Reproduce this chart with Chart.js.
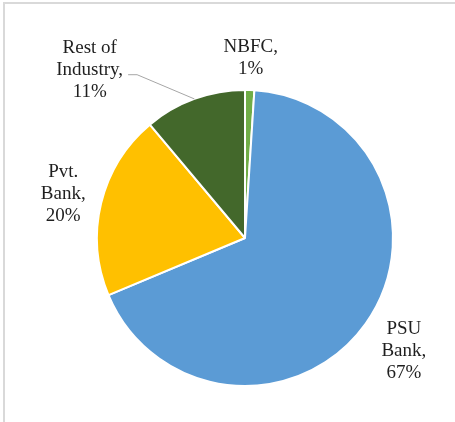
<!DOCTYPE html>
<html lang="en">
  <head>
    <meta charset="UTF-8" />
    <title>Share by lender</title>
    <script src="https://cdn.jsdelivr.net/npm/chart.js"></script>
    <style>
      html, body { margin: 0; padding: 0; background: #fff; }
      #wrap { position: relative; width: 455px; height: 422px; overflow: hidden; }
      #frame {
        position: absolute; left: 3px; top: 2px; width: 600px; height: 600px;
        border-top: 2px solid #d9d9d9; border-left: 2px solid #d9d9d9;
        box-sizing: border-box;
      }
      #chart { position: absolute; left: 0; top: 0; }
    </style>
  </head>
  <body>
    <div id="wrap">
      <div id="frame"></div>
      <canvas id="chart" width="455" height="422"></canvas>
    </div>

    <script>
      const categories = ["NBFC", "PSU Bank", "Pvt. Bank", "Rest of Industry"];
      const shares = [1, 67, 20, 11];
      const labelLines = [
        ["NBFC,", "1%"],
        ["PSU", "Bank,", "67%"],
        ["Pvt.", "Bank,", "20%"],
        ["Rest of", "Industry,", "11%"]
      ];
      const sliceColors = ["#70AD47", "#5B9BD5", "#FFC000", "#43682B"];

      // how far outside the rim each label sits, and any angular nudge (degrees)
      const labelPlacement = [
        { dist: 32 },
        { dist: 47 },
        { dist: 39 },
        { dist: 81, shift: -22.7, leader: true }
      ];

      const FONT = "19px 'Liberation Serif', 'DejaVu Serif', serif";
      const LINE_H = 22;

      const outsideLabels = {
        id: "outsideLabels",
        afterDatasetsDraw(chart) {
          const ctx = chart.ctx;
          const arcs = chart.getDatasetMeta(0).data;
          ctx.save();
          ctx.font = FONT;
          ctx.fillStyle = "#1f1f1f";
          ctx.textAlign = "center";
          ctx.textBaseline = "middle";
          arcs.forEach((arc, i) => {
            const { x, y, startAngle, endAngle, outerRadius } = arc.getProps(
              ["x", "y", "startAngle", "endAngle", "outerRadius"], true);
            const mid = (startAngle + endAngle) / 2;
            const place = labelPlacement[i];
            const ang = mid + (place.shift || 0) * Math.PI / 180;
            const d = outerRadius + place.dist;
            const lx = x + Math.cos(ang) * d;
            const ly = y + Math.sin(ang) * d;
            const lines = labelLines[i];
            lines.forEach((t, k) => {
              ctx.fillText(t, lx, ly + (k - (lines.length - 1) / 2) * LINE_H);
            });
            if (place.leader) {
              const w = Math.max(...lines.map(t => ctx.measureText(t).width));
              const sx = lx + w / 2 + 5;
              const sy = ly + 5;
              ctx.beginPath();
              ctx.strokeStyle = "#a6a6a6";
              ctx.lineWidth = 1;
              ctx.moveTo(sx, sy);
              ctx.lineTo(sx + 9, sy);
              ctx.lineTo(x + Math.cos(mid) * outerRadius, y + Math.sin(mid) * outerRadius);
              ctx.stroke();
            }
          });
          ctx.restore();
        }
      };

      new Chart(document.getElementById("chart"), {
        type: "pie",
        data: {
          labels: categories,
          datasets: [{
            data: shares,
            backgroundColor: sliceColors,
            borderColor: "#ffffff",
            borderWidth: 2
          }]
        },
        options: {
          responsive: false,
          animation: false,
          layout: { padding: { top: 89, bottom: 35, left: 96, right: 61 } },
          plugins: {
            legend: { display: false },
            tooltip: { enabled: false }
          }
        },
        plugins: [outsideLabels]
      });
    </script>
  </body>
</html>
